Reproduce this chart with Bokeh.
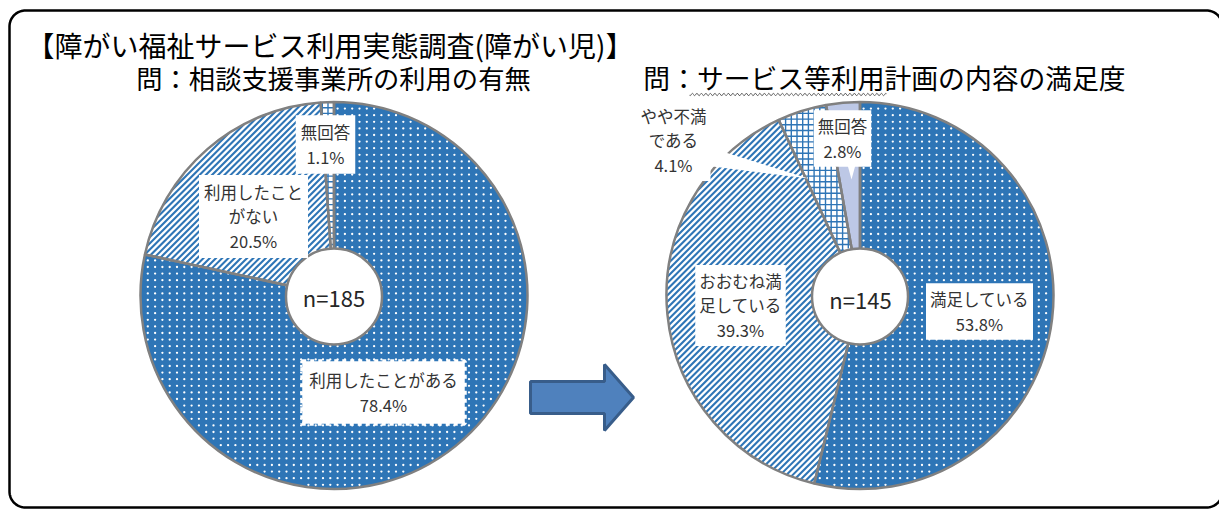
import numpy as np
from bokeh.plotting import figure
from bokeh.models import Range1d, ColumnDataSource
from bokeh.embed import file_html
from bokeh.resources import INLINE
from bokeh.core.properties import value

# ---------------- data ----------------
title = "【障がい福祉サービス利用実態調査(障がい児)】"
left_question = "問：相談支援事業所の利用の有無"
right_question = "問：サービス等利用計画の内容の満足度"

left_labels = ["利用したことがある", "利用したことがない", "無回答"]
left_display = ["利用したことがある", "利用したこと\nがない", "無回答"]
left_values = [78.4, 20.5, 1.1]
left_n = 185

right_labels = ["満足している", "おおむね満足している", "やや不満である", "無回答"]
right_display = ["満足している", "おおむね満\n足している", "やや不満\nである", "無回答"]
right_values = [53.8, 39.3, 4.1, 2.8]
right_n = 145

# ---------------- layout helpers ----------------
W, H = 1219, 511
FONT = value("Noto Sans CJK JP")


def Y(s):
    # screen y (page px) -> data y
    return H - np.asarray(s, dtype=float)


p = figure(width=W, height=H, x_range=Range1d(0, W), y_range=Range1d(0, H),
           output_backend="svg", toolbar_location=None, min_border=0,
           x_axis_location=None, y_axis_location=None)
p.grid.visible = False
p.outline_line_color = None
p.background_fill_color = "white"
p.border_fill_color = "white"

# rounded frame
r0 = 16
L, T, R, B = 9, 10, 1222, 507
pts = []
for cx, cy, a0, a1 in [(R - r0, T + r0, 0, 90), (L + r0, T + r0, 90, 180),
                       (L + r0, B - r0, 180, 270), (R - r0, B - r0, 270, 360)]:
    a = np.radians(np.linspace(a0, a1, 20))
    pts += [(cx + r0 * np.cos(t), cy - r0 * np.sin(t)) for t in a]
pts.append(pts[0])
p.line([q[0] for q in pts], list(Y([q[1] for q in pts])), line_color="black", line_width=2.5)

# titles
p.text(x=[26], y=[Y(44)], text=[title], text_font=FONT, text_font_size="28px",
       text_color="black", text_align="left", text_baseline="middle")
p.text(x=[333], y=[Y(77)], text=[left_question], text_font=FONT,
       text_font_size="26.3px", text_color="black", text_align="center", text_baseline="middle")
p.text(x=[884], y=[Y(77)], text=[right_question], text_font=FONT,
       text_font_size="26.8px", text_color="black", text_align="center", text_baseline="middle")
# wavy underline (spell-check style)
wx = np.linspace(689, 886, 200)
p.line(wx, Y(94 + 1.3 * np.sin(wx * 2 * np.pi / 4.5)), line_color="#666666", line_width=1)

BLUE = "#2E75B6"
OUT = "#808080"
FILL = {"dots": BLUE, "stripes": "white", "grid": "white", "lav": "#BDC8E6"}


def inside(px, py, cx, cy, a0, a1, rin, rout):
    dx, dy = px - cx, py - cy
    r = np.hypot(dx, dy)
    th = np.mod(np.arctan2(dx, -dy), 2 * np.pi)
    return (r >= rin) & (r <= rout) & (th >= a0) & (th <= a1)


def clipped_lines(cx, cy, a0, a1, rin, rout, d, spacing):
    d = np.asarray(d, float) / np.hypot(*d)
    n = np.array([-d[1], d[0]])
    t = np.arange(-rout - 2, rout + 2, 0.5)
    xs, ys = [], []
    for c in np.arange(-rout, rout, spacing):
        px = cx + n[0] * c + d[0] * t
        py = cy + n[1] * c + d[1] * t
        m = inside(px, py, cx, cy, a0, a1, rin, rout).astype(int)
        e = np.diff(np.concatenate([[0], m, [0]]))
        for s0, s1 in zip(np.where(e == 1)[0], np.where(e == -1)[0] - 1):
            if s1 > s0:
                xs.append([px[s0], px[s1]])
                ys.append(list(Y([py[s0], py[s1]])))
    return xs, ys


def pie(cx, cy, vals, kinds, rad=193.5, hole=48):
    cum = np.concatenate([[0], np.cumsum(vals)]) / np.sum(vals)
    ang = 2 * np.pi * cum
    for i, k in enumerate(kinds):
        p.wedge(x=[cx], y=[Y(cy)], radius=rad, start_angle=np.pi / 2 - ang[i],
                end_angle=np.pi / 2 - ang[i + 1], direction="clock",
                fill_color=FILL[k], line_color=None)
        a0, a1 = ang[i], ang[i + 1]
        if k == "dots":
            gx, gy = np.meshgrid(np.arange(cx - rad, cx + rad, 7.3), np.arange(cy - rad, cy + rad, 6.6))
            gx, gy = gx.ravel(), gy.ravel()
            m = inside(gx, gy, cx, cy, a0, a1, hole, rad - 2)
            p.scatter(gx[m], Y(gy[m]), size=2.3, fill_color="white", line_color=None)
        elif k == "stripes":
            xs, ys = clipped_lines(cx, cy, a0, a1, hole, rad, (1, -1), 4.4)
            p.multi_line(xs, ys, line_color=BLUE, line_width=2.1)
        elif k == "grid":
            for d in [(1, 0), (0, 1)]:
                xs, ys = clipped_lines(cx, cy, a0, a1, hole, rad, d, 5.7)
                p.multi_line(xs, ys, line_color=BLUE, line_width=1.4)
    for i in range(len(kinds)):
        p.wedge(x=[cx], y=[Y(cy)], radius=rad, start_angle=np.pi / 2 - ang[i],
                end_angle=np.pi / 2 - ang[i + 1], direction="clock",
                fill_color=None, line_color=OUT, line_width=2.5)
    p.circle(x=[cx], y=[Y(cy + 1)], radius=hole, fill_color="white", line_color=OUT, line_width=2.5)


pie(333.5, 295, left_values, ["dots", "stripes", "grid"])
pie(859.5, 295, right_values, ["dots", "stripes", "grid", "lav"])

# callout pointers (white)
p.patch([712, 712, 808], list(Y([148, 166, 178])), fill_color="white", line_color=None)
p.patch([845, 857, 851], list(Y([157, 157, 179])), fill_color="white", line_color=None)

# n labels
p.text(x=[333.5, 860], y=[Y(296), Y(298)], text=[f"n={left_n}", f"n={right_n}"], text_font=FONT,
       text_font_size="22px", text_color="#262626", text_align="center", text_baseline="middle")

# data labels
lab_pos_left = [(383, 392), (253, 216), (325, 144)]
lab_pos_right = [(979, 311), (740, 305), (673, 140), (842, 138)]


def labels(pos, disp, vals, **kw):
    src = ColumnDataSource(dict(
        x=[q[0] for q in pos], y=list(Y([q[1] for q in pos])),
        text=[f"{d}\n{v:.1f}%" for d, v in zip(disp, vals)]))
    p.text(x="x", y="y", text="text", source=src, text_font=FONT, text_font_size="16.5px",
           text_color="#333333", text_align="center", text_baseline="middle",
           text_line_height=1.02, background_fill_color="white", **kw)


labels(lab_pos_left[:1], left_display[:1], left_values[:1],
       padding=7, border_line_color="white", border_line_width=4, border_line_dash="4 4")
labels(lab_pos_left[1:], left_display[1:], left_values[1:], padding=5)
labels(lab_pos_right, right_display, right_values, padding=4)

# arrow
ax = [530, 604, 604, 633, 604, 604, 530]
ay = [381, 381, 364, 397, 430, 413, 413]
p.patch(ax, list(Y(ay)), fill_color="#4F81BD", line_color="#385D8A", line_width=3)

open("out.html", "w").write(file_html(p, INLINE))
